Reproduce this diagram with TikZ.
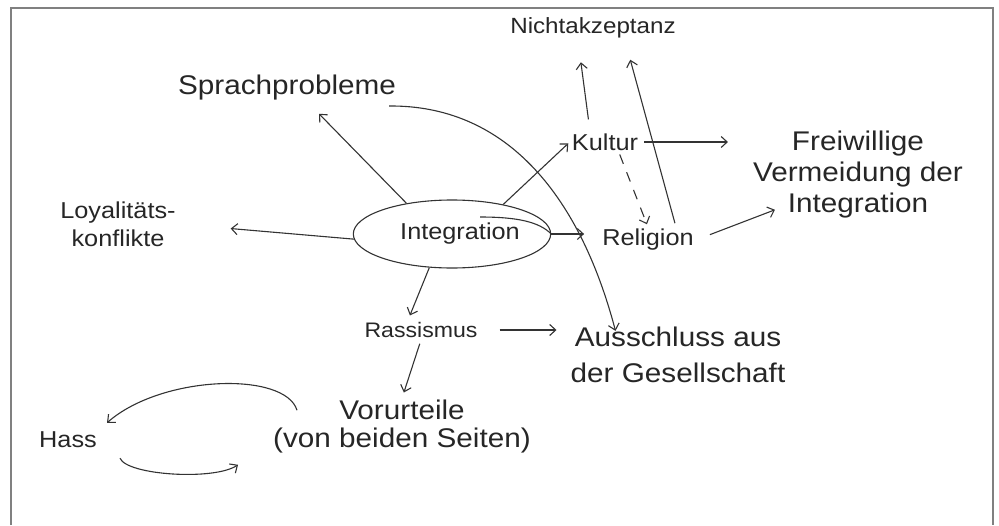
\documentclass[tikz,border=0pt]{standalone}
\usepackage{fontspec}
\setmainfont{Liberation Sans}[FakeStretch=1.1]
\usetikzlibrary{calc, shapes.geometric, arrows.meta}
\tikzset{
  txt/.style={font=\fontsize{23}{28}\selectfont, text=black!85, inner sep=2pt, align=center},
  bigtxt/.style={txt, font=\fontsize{27}{#1}\selectfont},
  arr/.style={-{Straight Barb[length=6pt,width=11pt]}, line width=1.1pt, draw=black!80},
  frame/.style={line width=2pt, draw=black!50}
}

\begin{document}
\begin{tikzpicture}[x=1pt, y=-1pt]
                \useasboundingbox (0,0) rectangle (999,525);
                \draw[frame] (11,525) -- (11,8) -- (993,8) -- (993,525);
                \node[txt, font=\fontsize{22}{26}\selectfont] (nicht) at (593,28) {Nichtakzeptanz};
                \node[bigtxt=30] (sprach) at (287,88) {Sprachprobleme};
                \node[txt] (kultur) at (605,142) {Kultur};
                \node[bigtxt=31] (frei) at (858,175) {Freiwillige\\Vermeidung der\\Integration};
                \node[txt] (loyal) at (118,224) {Loyalitäts-\\konflikte};
                \node[txt, ellipse, draw=black!80, line width=1.1pt, minimum width=190, minimum height=68] (integ) at (452,234) {\hspace{16pt}Integration};
                \node[txt] (relig) at (648,240) {Religion};
                \node[txt, font=\fontsize{21}{24}\selectfont] (rass) at (421,330) {Rassismus};
                \node[bigtxt=36] (aussch) at (678,355) {Ausschluss aus\\der Gesellschaft};
                \node[bigtxt=28] (vorurt) at (402,427) {Vorurteile\\(von beiden Seiten)};
                \node[txt] (hass) at (68,440) {Hass};
                \draw[line width=1.1pt, black!80] ($(integ.center)+(28,-17)$) .. controls +(38,0) and +(-12,-12) .. (integ.east);
                \draw[arr] (integ.146) -- ([xshift=32pt,yshift=-11pt]sprach.south);
                \draw[arr, shorten >=53pt] (integ.183) -- (loyal.east);
                \draw[arr, shorten >=2pt] (integ.30) -- (kultur.west);
                \draw[arr, shorten >=16pt] (integ.east) -- (integ.east -| relig.west);
                \draw[arr, shorten >=5pt] (integ.236) -- ([xshift=-13pt]rass.north);
                \draw[arr] ([xshift=-9pt,yshift=-18pt]sprach.east) .. controls +(114,-1) and +(-37,-140) .. ([xshift=47pt,yshift=-6pt]aussch.north west);
                \draw[arr, shorten <=4pt, shorten >=23pt] (kultur.east) -- (kultur.east -| frei.west);
                \draw[arr, shorten <=15pt] (relig.east) -- ([xshift=24pt,yshift=11pt]frei.south west);
                \draw[arr, shorten <=12pt, shorten >=22pt] ([xshift=-15pt]kultur.north) -- ([xshift=-15pt]nicht.south);
                \draw[arr, shorten <=4pt, shorten >=20pt] ([xshift=28pt]relig.north) -- ([xshift=32pt]nicht.south);
                \draw[arr, dashed, dash pattern=on 10pt off 9pt, shorten <=2pt, shorten >=3pt] ([xshift=14pt]kultur.south) -- (relig.north);
                \draw[arr, shorten <=20pt, shorten >=12pt] (rass.east) -- (rass.east -| aussch.west);
                \draw[arr, shorten <=4pt, shorten >=6pt] (rass.south) -- (vorurt.north);
                \draw[arr] ([xshift=-105pt,yshift=-12pt]vorurt.north) .. controls +(-12,-39) and +(55,-48) .. ([xshift=8pt,yshift=7pt]hass.north east);
                \draw[arr] ([xshift=21pt,yshift=-8pt]hass.south east) .. controls +(7,17) and +(-24,16) .. ([xshift=-33pt,yshift=-9pt]vorurt.south west);
            \end{tikzpicture}
\end{document}
